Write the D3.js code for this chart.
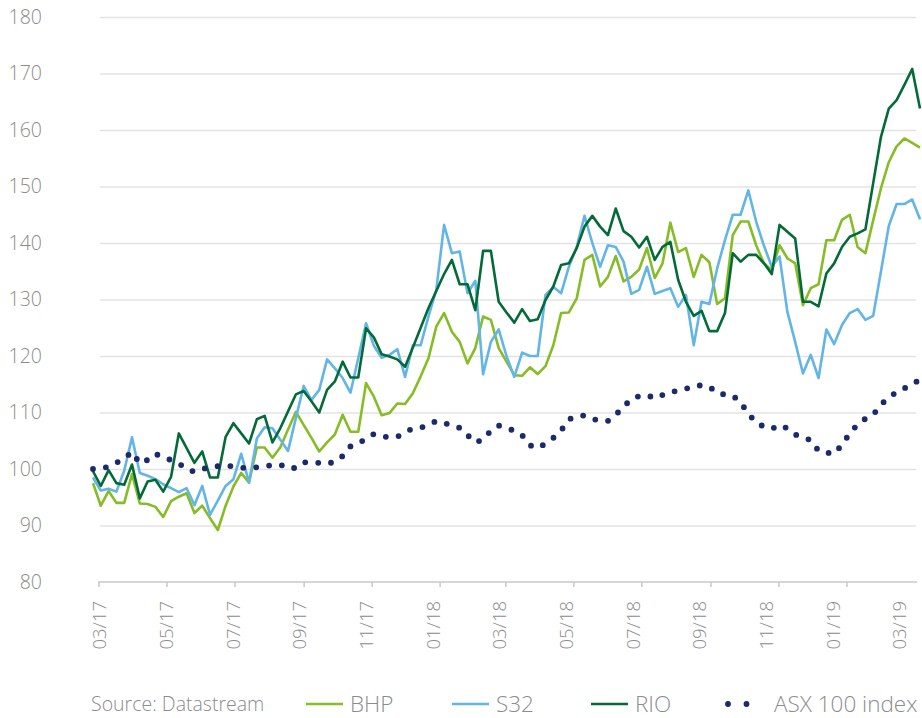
<!DOCTYPE html>
<html>
<head>
<meta charset="utf-8">
<script src="https://cdn.jsdelivr.net/npm/d3@7"></script>
<style>
  body { margin: 0; background: #fff; }
  svg text { font-family: "Open Sans", sans-serif; font-weight: 300; fill: #8c8c8c; }
</style>
</head>
<body>
<svg id="chart" width="922" height="718"></svg>
<script>
// weekly closes, indexed (first week ending 24 Feb 2017)
var firstWeek = "2017-02-24"

var bhp = [
  97.5, 93.5, 96.1, 94.0, 94.0, 99.1, 93.9, 93.8, 93.3, 91.5,
  94.3, 95.1, 95.7, 92.2, 93.5, 91.3, 89.2, 93.5, 96.9, 99.3,
  97.6, 103.8, 103.8, 102.0, 103.8, 107.0, 110.1, 107.8, 105.5, 103.1,
  104.7, 106.1, 109.6, 106.6, 106.6, 115.2, 112.8, 109.5, 109.9, 111.6,
  111.5, 113.4, 116.4, 119.6, 125.2, 127.6, 124.3, 122.5, 118.7, 121.4,
  127.0, 126.4, 121.4, 119.0, 116.6, 116.5, 118.0, 116.8, 118.2, 121.9,
  127.6, 127.7, 130.2, 137.0, 137.9, 132.3, 134.0, 137.7, 133.2, 134.0,
  135.3, 139.1, 133.8, 136.4, 143.6, 138.4, 139.1, 134.0, 137.9, 136.6,
  129.2, 130.2, 141.4, 143.8, 143.8, 139.6, 136.4, 135.2, 139.6, 137.3,
  136.4, 129.0, 132.0, 132.7, 140.5, 140.5, 144.1, 145.0, 139.3, 138.2,
  144.0, 149.7, 154.3, 157.1, 158.5, 157.7, 156.9
]

var s32 = [
  98.5, 96.2, 96.5, 96.0, 99.7, 105.6, 99.3, 98.8, 98.2, 97.3,
  96.6, 95.9, 96.6, 93.6, 97.0, 91.9, 94.4, 97.0, 98.2, 102.7,
  97.6, 105.4, 107.4, 107.2, 105.2, 103.2, 109.0, 114.7, 112.2, 114.0,
  119.4, 117.8, 116.1, 113.5, 119.6, 125.8, 121.8, 119.7, 120.2, 121.2,
  116.3, 121.9, 121.9, 127.0, 131.7, 143.2, 138.2, 138.5, 131.1, 133.3,
  116.8, 122.5, 124.7, 120.0, 116.3, 120.6, 120.0, 120.0, 130.8, 132.2,
  131.1, 135.8, 139.3, 144.8, 140.0, 135.8, 139.6, 139.3, 136.7, 131.0,
  131.7, 135.8, 131.0, 131.5, 132.0, 128.7, 130.8, 121.9, 129.6, 129.2,
  135.5, 140.5, 145.0, 145.0, 149.3, 143.8, 139.5, 135.8, 137.6, 127.8,
  122.5, 116.9, 120.2, 116.1, 124.7, 122.1, 125.5, 127.6, 128.3, 126.4,
  127.1, 135.0, 143.0, 146.9, 146.9, 147.7, 144.2
]

var rio = [
  99.6, 97.0, 99.8, 97.5, 97.2, 100.8, 94.8, 97.8, 98.1, 96.0,
  98.6, 106.3, 103.7, 101.1, 103.1, 98.5, 98.5, 105.7, 108.1, 106.3,
  104.5, 108.8, 109.4, 104.7, 107.2, 110.2, 113.2, 113.8, 112.0, 110.0,
  114.0, 115.5, 119.0, 116.2, 116.2, 124.9, 123.3, 120.3, 119.9, 119.4,
  118.1, 121.5, 125.0, 128.5, 131.5, 134.5, 137.0, 132.7, 132.7, 128.1,
  138.6, 138.6, 129.6, 127.7, 125.9, 128.3, 126.2, 126.5, 129.9, 132.3,
  136.1, 136.4, 139.1, 142.9, 144.8, 142.9, 141.4, 146.1, 142.1, 141.1,
  139.2, 141.1, 137.0, 139.3, 140.2, 133.5, 129.6, 127.1, 128.0, 124.4,
  124.4, 127.6, 138.2, 136.7, 137.9, 137.9, 136.4, 134.5, 143.2, 142.0,
  140.8, 129.6, 129.6, 128.8, 134.6, 136.4, 139.3, 141.1, 141.7, 142.4,
  150.6, 158.8, 163.8, 165.3, 168.0, 170.8, 163.8
]

var asx = [
  100.0, 100.1, 100.4, 101.1, 101.9, 103.0, 101.0, 101.6, 102.7, 102.0,
  101.6, 101.0, 100.0, 99.5, 100.0, 100.3, 100.5, 100.7, 100.4, 100.2,
  100.2, 100.3, 100.5, 100.7, 100.8, 100.1, 100.2, 101.2, 101.1, 101.1,
  100.9, 101.3, 102.3, 104.0, 104.5, 105.4, 106.2, 105.8, 105.6, 105.7,
  106.5, 107.2, 107.3, 107.8, 108.5, 108.2, 107.6, 107.3, 106.0, 104.7,
  105.2, 106.8, 107.7, 107.2, 106.8, 106.0, 104.2, 103.7, 104.5, 105.5,
  106.8, 108.8, 109.3, 109.5, 108.9, 108.5, 108.5, 109.6, 111.0, 112.4,
  112.9, 113.1, 112.5, 113.1, 113.7, 113.8, 114.2, 114.7, 114.8, 114.6,
  113.4, 113.2, 113.0, 111.8, 109.8, 108.2, 107.5, 107.1, 107.8, 107.2,
  106.1, 105.6, 105.1, 103.2, 102.9, 102.7, 104.3, 106.3, 107.9, 108.9,
  109.6, 111.4, 112.7, 113.6, 114.3, 114.9, 115.9
]

var seriesNames = ["BHP", "S32", "RIO", "ASX 100 index"]
var colors = ["#86bc25", "#62b5e5", "#046a38", "#1b2a6b"]

var xLabels = ["03/17", "05/17", "07/17", "09/17", "11/17", "01/18", "03/18",
               "05/18", "07/18", "09/18", "11/18", "01/19", "03/19"]
var yTicks = [80, 90, 100, 110, 120, 130, 140, 150, 160, 170, 180]

var sourceNote = "Source: Datastream"


// ---- setup
var svg = d3.select("#chart")
var parseDay = d3.timeParse("%Y-%m-%d")
var parseLabel = d3.timeParse("%m/%y")
var start = parseDay(firstWeek)
var dates = bhp.map((d, i) => d3.timeDay.offset(start, i * 7))

var x = d3.scaleTime()
  .domain([dates[0], dates[dates.length - 1]])
  .range([93, 920])

var y = d3.scaleLinear()
  .domain([80, 180])
  .range([582, 17])

var gridLeft = 100, gridRight = 916

// horizontal grid + y labels
var yAxis = d3.axisLeft(y)
  .tickValues(yTicks)
  .tickSize(-(gridRight - gridLeft))
  .tickPadding(58)

var gy = svg.append("g")
  .attr("transform", "translate(" + gridLeft + ",0)")
  .call(yAxis)
gy.select(".domain").remove()
gy.selectAll(".tick line")
  .attr("stroke", "#e3e3e3")
  .attr("stroke-width", 1.3)
  .filter(d => d === 80).remove()
gy.selectAll(".tick text")
  .attr("font-size", 19.5)
  .attr("fill", "#8c8c8c")

// x axis: tick marks at month starts, labels spread evenly
var tickDates = xLabels.map(parseLabel).filter(d => x(d) < 905)

var xAxis = d3.axisBottom(x)
  .tickValues(tickDates)
  .tickFormat("")
  .tickSize(5)
  .tickSizeOuter(0)

var gx = svg.append("g")
  .attr("transform", "translate(0," + y(80) + ")")
  .call(xAxis)
gx.select(".domain").remove()
gx.selectAll(".tick line").attr("stroke", "#c8c8c8").attr("stroke-width", 1.5)
gx.append("line")
  .attr("x1", x(tickDates[0]) - 0.5)
  .attr("x2", 917)
  .attr("stroke", "#c8c8c8")
  .attr("stroke-width", 1.6)

var labelPos = d3.scalePoint()
  .domain(xLabels)
  .range([100, 900])

svg.append("g").selectAll("text")
  .data(xLabels)
  .enter()
  .append("text")
    .attr("transform", d => "translate(" + labelPos(d) + ",601)rotate(-90)")
    .attr("text-anchor", "end")
    .attr("dy", "0.35em")
    .attr("font-size", 18.5)
    .text(d => d)

// series lines
var allSeries = [bhp, s32, rio, asx]

var line = d3.line()
  .x((d, i) => x(dates[i]))
  .y(d => y(d))

svg.append("g").selectAll("path")
  .data(allSeries)
  .enter()
  .append("path")
    .attr("d", d => line(d))
    .attr("fill", "none")
    .attr("stroke", (d, i) => colors[i])
    .attr("stroke-width", (d, i) => i === 3 ? 5.8 : 2.6)
    .attr("stroke-linejoin", "round")
    .attr("stroke-linecap", (d, i) => i === 3 ? "round" : "butt")
    .attr("stroke-dasharray", (d, i) => i === 3 ? "0 13" : null)

// legend
var legendY = 704
svg.append("text")
  .attr("x", 91)
  .attr("y", legendY)
  .attr("dy", "0.35em")
  .attr("font-size", 19.5)
  .text(sourceNote)

var legendX = [306, 452, 591, 728]
var legend = svg.append("g").selectAll("g")
  .data(seriesNames)
  .enter()
  .append("g")
    .attr("transform", (d, i) => "translate(" + legendX[i] + "," + legendY + ")")

legend.append("line")
  .attr("x1", 0)
  .attr("x2", 37)
  .attr("stroke", (d, i) => colors[i])
  .attr("stroke-width", (d, i) => i === 3 ? 5.8 : 2.6)
  .attr("stroke-linecap", (d, i) => i === 3 ? "round" : "butt")
  .attr("stroke-dasharray", (d, i) => i === 3 ? "0 18.5" : null)

legend.append("text")
  .attr("x", (d, i) => i === 3 ? 46 : 44)
  .attr("dy", "0.36em")
  .attr("font-size", 22.5)
  .text(d => d)
</script>
</body>
</html>
